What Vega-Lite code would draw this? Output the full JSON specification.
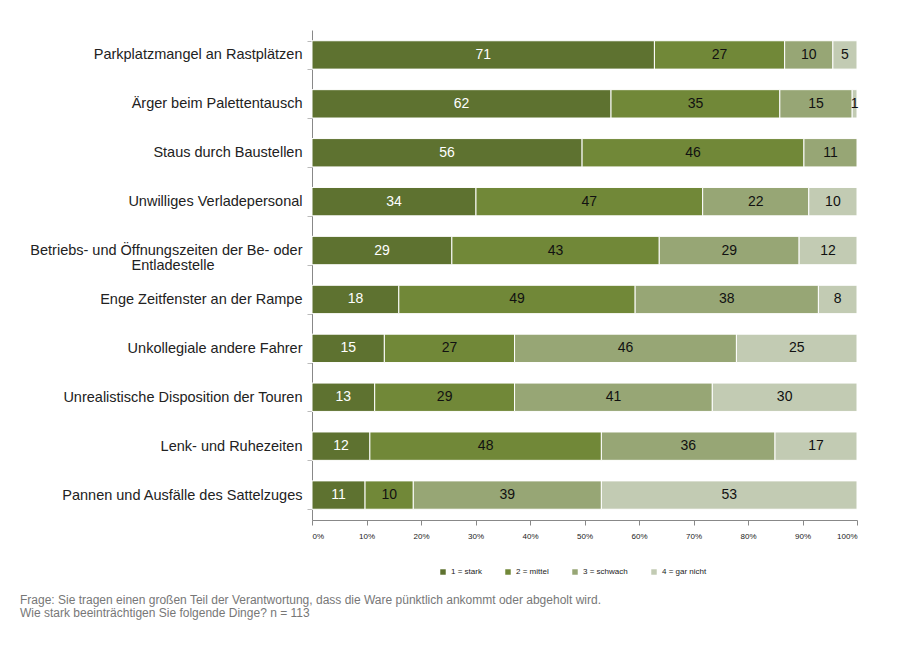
{
  "$schema": "https://vega.github.io/schema/vega-lite/v6.json",
  "width": 545,
  "height": 490,
  "autosize": "none",
  "padding": {"left": 312, "top": 30, "right": 41, "bottom": 131},
  "background": "white",
  "config": {
    "font": "Liberation Sans",
    "view": {"stroke": null}
  },
  "title": {
    "text": ["Frage: Sie tragen einen großen Teil der Verantwortung, dass die Ware pünktlich ankommt oder abgeholt wird.", "Wie stark beeinträchtigen  Sie folgende Dinge? n = 113"],
    "orient": "bottom",
    "anchor": "start",
    "frame": "group",
    "dx": -292,
    "offset": 19,
    "fontSize": 12,
    "fontWeight": "normal",
    "color": "#777777",
    "lineHeight": 13
  },
  "data": {
    "values": [
      {"item": "Parkplatzmangel an Rastplätzen", "level": "1 = stark", "rank": 1, "count": 71},
      {"item": "Parkplatzmangel an Rastplätzen", "level": "2 = mittel", "rank": 2, "count": 27},
      {"item": "Parkplatzmangel an Rastplätzen", "level": "3 = schwach", "rank": 3, "count": 10},
      {"item": "Parkplatzmangel an Rastplätzen", "level": "4 = gar  nicht", "rank": 4, "count": 5},
      {"item": "Ärger beim Palettentausch", "level": "1 = stark", "rank": 1, "count": 62},
      {"item": "Ärger beim Palettentausch", "level": "2 = mittel", "rank": 2, "count": 35},
      {"item": "Ärger beim Palettentausch", "level": "3 = schwach", "rank": 3, "count": 15},
      {"item": "Ärger beim Palettentausch", "level": "4 = gar  nicht", "rank": 4, "count": 1},
      {"item": "Staus durch Baustellen", "level": "1 = stark", "rank": 1, "count": 56},
      {"item": "Staus durch Baustellen", "level": "2 = mittel", "rank": 2, "count": 46},
      {"item": "Staus durch Baustellen", "level": "3 = schwach", "rank": 3, "count": 11},
      {"item": "Unwilliges Verladepersonal", "level": "1 = stark", "rank": 1, "count": 34},
      {"item": "Unwilliges Verladepersonal", "level": "2 = mittel", "rank": 2, "count": 47},
      {"item": "Unwilliges Verladepersonal", "level": "3 = schwach", "rank": 3, "count": 22},
      {"item": "Unwilliges Verladepersonal", "level": "4 = gar  nicht", "rank": 4, "count": 10},
      {"item": "Betriebs- und Öffnungszeiten der Be- oder Entladestelle", "level": "1 = stark", "rank": 1, "count": 29},
      {"item": "Betriebs- und Öffnungszeiten der Be- oder Entladestelle", "level": "2 = mittel", "rank": 2, "count": 43},
      {"item": "Betriebs- und Öffnungszeiten der Be- oder Entladestelle", "level": "3 = schwach", "rank": 3, "count": 29},
      {"item": "Betriebs- und Öffnungszeiten der Be- oder Entladestelle", "level": "4 = gar  nicht", "rank": 4, "count": 12},
      {"item": "Enge Zeitfenster an der Rampe", "level": "1 = stark", "rank": 1, "count": 18},
      {"item": "Enge Zeitfenster an der Rampe", "level": "2 = mittel", "rank": 2, "count": 49},
      {"item": "Enge Zeitfenster an der Rampe", "level": "3 = schwach", "rank": 3, "count": 38},
      {"item": "Enge Zeitfenster an der Rampe", "level": "4 = gar  nicht", "rank": 4, "count": 8},
      {"item": "Unkollegiale andere Fahrer", "level": "1 = stark", "rank": 1, "count": 15},
      {"item": "Unkollegiale andere Fahrer", "level": "2 = mittel", "rank": 2, "count": 27},
      {"item": "Unkollegiale andere Fahrer", "level": "3 = schwach", "rank": 3, "count": 46},
      {"item": "Unkollegiale andere Fahrer", "level": "4 = gar  nicht", "rank": 4, "count": 25},
      {"item": "Unrealistische Disposition der Touren", "level": "1 = stark", "rank": 1, "count": 13},
      {"item": "Unrealistische Disposition der Touren", "level": "2 = mittel", "rank": 2, "count": 29},
      {"item": "Unrealistische Disposition der Touren", "level": "3 = schwach", "rank": 3, "count": 41},
      {"item": "Unrealistische Disposition der Touren", "level": "4 = gar  nicht", "rank": 4, "count": 30},
      {"item": "Lenk- und Ruhezeiten", "level": "1 = stark", "rank": 1, "count": 12},
      {"item": "Lenk- und Ruhezeiten", "level": "2 = mittel", "rank": 2, "count": 48},
      {"item": "Lenk- und Ruhezeiten", "level": "3 = schwach", "rank": 3, "count": 36},
      {"item": "Lenk- und Ruhezeiten", "level": "4 = gar  nicht", "rank": 4, "count": 17},
      {"item": "Pannen und Ausfälle des Sattelzuges", "level": "1 = stark", "rank": 1, "count": 11},
      {"item": "Pannen und Ausfälle des Sattelzuges", "level": "2 = mittel", "rank": 2, "count": 10},
      {"item": "Pannen und Ausfälle des Sattelzuges", "level": "3 = schwach", "rank": 3, "count": 39},
      {"item": "Pannen und Ausfälle des Sattelzuges", "level": "4 = gar  nicht", "rank": 4, "count": 53}
    ]
  },
  "transform": [
    {"stack": "count", "groupby": ["item"], "offset": "normalize", "sort": [{"field": "rank", "order": "ascending"}], "as": ["x0", "x1"]},
    {"calculate": "(datum.x0 + datum.x1) / 2", "as": "xmid"}
  ],
  "encoding": {
    "y": {
      "field": "item",
      "type": "nominal",
      "sort": null,
      "title": null,
      "scale": {"paddingInner": 0.42, "paddingOuter": 0.22},
      "axis": {
        "tickBand": "extent",
        "domainColor": "#888888",
        "tickColor": "#bbbbbb",
        "tickSize": 5,
        "labelFontSize": 14.5,
        "labelColor": "#222222",
        "labelPadding": 5,
        "labelLimit": 400,
        "labelLineHeight": 15,
        "labelExpr": "datum.value == 'Betriebs- und Öffnungszeiten der Be- oder Entladestelle' ? ['Betriebs- und Öffnungszeiten der Be- oder', 'Entladestelle\u2800\u2800\u2800\u2800\u2800\u2800\u2800\u2800'] : datum.value"
      }
    }
  },
  "layer": [
    {
      "mark": {"type": "bar", "stroke": "white", "strokeWidth": 1},
      "encoding": {
        "x": {
          "field": "x0",
          "type": "quantitative",
          "title": null,
          "scale": {"domain": [0, 1], "nice": false},
          "axis": {
            "format": ".0%",
            "values": [0, 0.1, 0.2, 0.3, 0.4, 0.5, 0.6, 0.7, 0.8, 0.9, 1],
            "grid": false,
            "domainColor": "#888888",
            "tickColor": "#888888",
            "tickSize": 5,
            "labelFontSize": 8,
            "labelColor": "#222222",
            "labelPadding": 7
          }
        },
        "x2": {"field": "x1"},
        "color": {
          "field": "level",
          "type": "nominal",
          "sort": ["1 = stark", "2 = mittel", "3 = schwach", "4 = gar  nicht"],
          "scale": {
            "domain": ["1 = stark", "2 = mittel", "3 = schwach", "4 = gar  nicht"],
            "range": ["#5e7230", "#718838", "#97a675", "#c2cbb3"]
          },
          "legend": {
            "title": null,
            "orient": "none",
            "legendX": 127,
            "legendY": 538,
            "padding": 0,
            "direction": "horizontal",
            "symbolType": "square",
            "symbolSize": 30,
            "symbolStrokeWidth": 0,
            "labelFontSize": 8,
            "labelColor": "#222222",
            "columnPadding": 22,
            "labelOffset": 4
          }
        }
      }
    },
    {
      "mark": {"type": "text", "fontSize": 14},
      "encoding": {
        "x": {"field": "xmid", "type": "quantitative"},
        "text": {"field": "count", "type": "quantitative"},
        "color": {
          "condition": {"test": "datum.rank == 1", "value": "white"},
          "value": "#111111"
        }
      }
    }
  ]
}
